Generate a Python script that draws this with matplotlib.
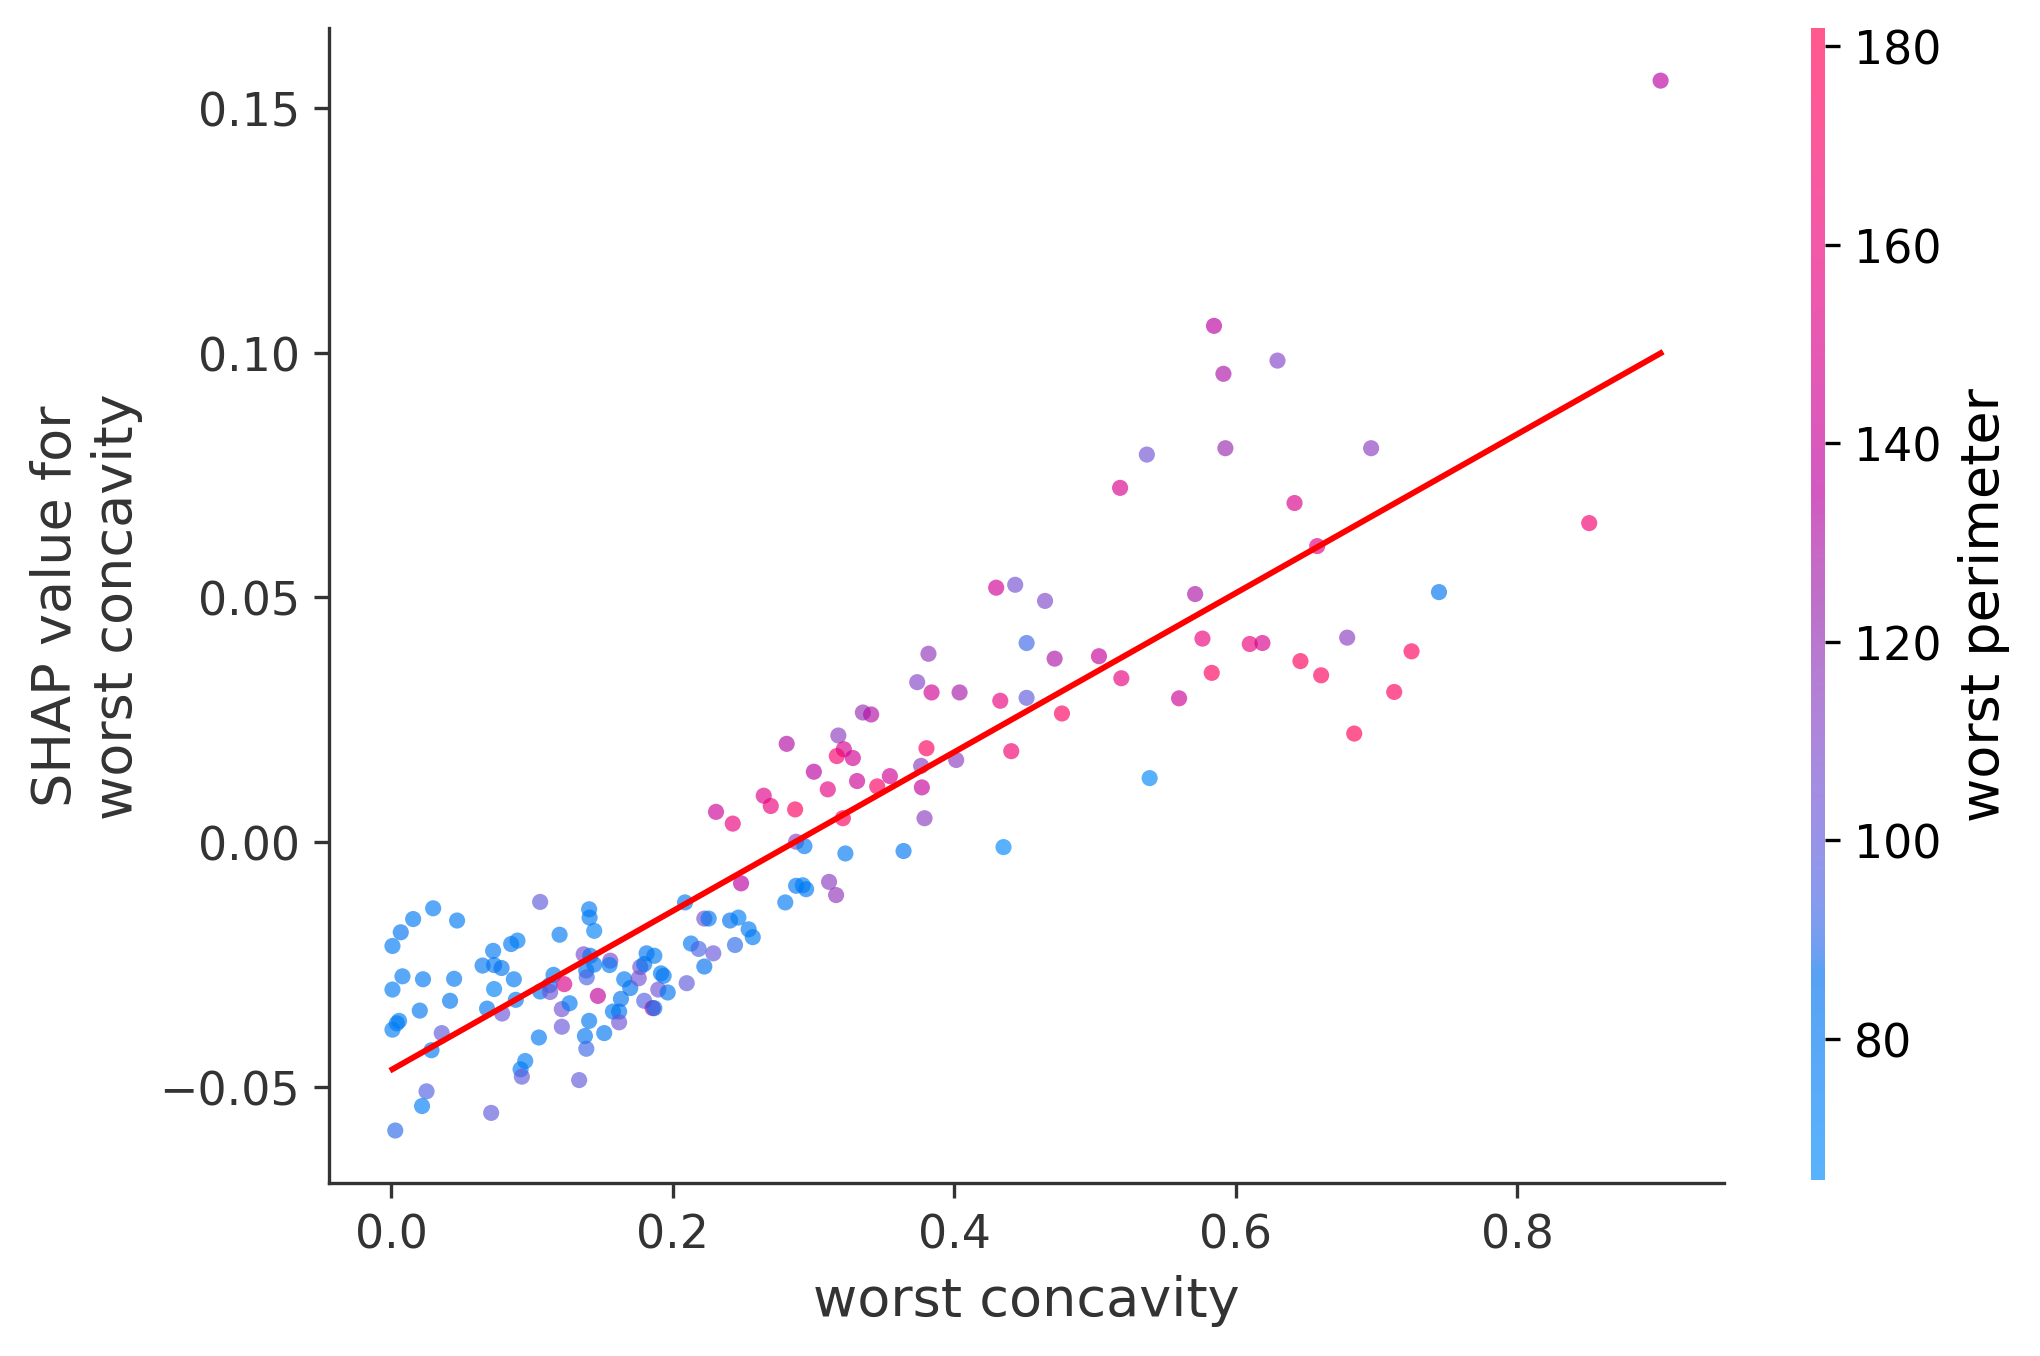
import numpy as np
import matplotlib
matplotlib.use("Agg")
import matplotlib.pyplot as plt
from matplotlib.colors import LinearSegmentedColormap
from matplotlib.ticker import MaxNLocator

# worst concavity (x), SHAP value (y), worst perimeter (colour)
worst_concavity = [
    0.001, 0.0069, 0.0157, 0.0299, 0.0469, 0.0081, 0.001, 0.0227, 0.0448, 0.0419,
    0.0204, 0.0057, 0.001, 0.0041, 0.036, 0.0287, 0.0252, 0.022, 0.003, 0.0711,
    0.1059, 0.0725, 0.065, 0.0732, 0.0785, 0.0853, 0.0898, 0.0872, 0.0732, 0.0682,
    0.0789, 0.0886, 0.105, 0.0953, 0.092, 0.0929, 0.1197, 0.1154, 0.1126, 0.1059,
    0.113, 0.123, 0.1213, 0.1268, 0.1213, 0.1336, 0.1407, 0.141, 0.1443, 0.1368,
    0.1415, 0.1443, 0.1386, 0.139, 0.1557, 0.1552, 0.1469, 0.1407, 0.1377, 0.1387,
    0.1514, 0.1576, 0.162, 0.162, 0.1633, 0.1656, 0.1699, 0.1759, 0.177, 0.1815,
    0.187, 0.1798, 0.1798, 0.1858, 0.187, 0.1917, 0.1936, 0.1898, 0.1965, 0.21,
    0.2088, 0.213, 0.2185, 0.2225, 0.2289, 0.2225, 0.2256, 0.2408, 0.2467, 0.2443,
    0.254, 0.2569, 0.2486, 0.28, 0.2308, 0.2427, 0.2647, 0.2697, 0.287, 0.3102,
    0.331, 0.3453, 0.3543, 0.377, 0.3209, 0.3789, 0.2877, 0.2936, 0.3227, 0.364,
    0.435, 0.2877, 0.2924, 0.2948, 0.3111, 0.3161, 0.281, 0.3351, 0.341, 0.3177,
    0.3216, 0.3166, 0.328, 0.3003, 0.3737, 0.3817, 0.3839, 0.3765, 0.3803, 0.4038,
    0.4014, 0.4298, 0.4433, 0.4645, 0.4514, 0.4713, 0.5028, 0.5187, 0.5711, 0.5763,
    0.5829, 0.5597, 0.6099, 0.6189, 0.6459, 0.6606, 0.6791, 0.7248, 0.7125, 0.6841,
    0.7443, 0.5388, 0.4327, 0.4514, 0.4765, 0.4405, 0.6578, 0.5178, 0.5368, 0.5845,
    0.5912, 0.5926, 0.6296, 0.6417, 0.6961, 0.851, 0.9017,
]
shap_values = [
    -0.0212, -0.0184, -0.0157, -0.0135, -0.0160, -0.0274, -0.0301, -0.0280, -0.0279, -0.0324,
    -0.0344, -0.0365, -0.0383, -0.0370, -0.039, -0.0425, -0.0509, -0.0539, -0.0589, -0.0553,
    -0.0122, -0.0222, -0.0252, -0.0251, -0.0257, -0.0208, -0.0201, -0.0280, -0.0300, -0.034,
    -0.035, -0.0322, -0.0399, -0.0447, -0.0464, -0.0479, -0.0189, -0.0271, -0.0292, -0.0305,
    -0.0306, -0.029, -0.0341, -0.0329, -0.0377, -0.0486, -0.0137, -0.0154, -0.0181, -0.0229,
    -0.0232, -0.025, -0.0262, -0.0276, -0.0242, -0.0251, -0.0314, -0.0365, -0.0396, -0.0422,
    -0.039, -0.0346, -0.0346, -0.0368, -0.032, -0.028, -0.0298, -0.0278, -0.0255, -0.0227,
    -0.0232, -0.0249, -0.0324, -0.0339, -0.0339, -0.0268, -0.0273, -0.0301, -0.0307, -0.0288,
    -0.0123, -0.0207, -0.0218, -0.0254, -0.0227, -0.0156, -0.0156, -0.016, -0.0154, -0.021,
    -0.0178, -0.0194, -0.0084, -0.0123, 0.0062, 0.0038, 0.0095, 0.0074, 0.0067, 0.0108,
    0.0125, 0.0114, 0.0135, 0.0112, 0.0049, 0.0049, 0.0001, -0.0008, -0.0023, -0.0018,
    -0.001, -0.0089, -0.0088, -0.0096, -0.0081, -0.0108, 0.0201, 0.0265, 0.0261, 0.0218,
    0.019, 0.0176, 0.0172, 0.0144, 0.0327, 0.0385, 0.0306, 0.0156, 0.0192, 0.0306,
    0.0168, 0.052, 0.0526, 0.0493, 0.0407, 0.0375, 0.038, 0.0335, 0.0507, 0.0416,
    0.0346, 0.0294, 0.0405, 0.0407, 0.037, 0.0341, 0.0418, 0.039, 0.0307, 0.0222,
    0.0511, 0.0131, 0.0289, 0.0295, 0.0263, 0.0186, 0.0605, 0.0724, 0.0792, 0.1055,
    0.0957, 0.0805, 0.0984, 0.0693, 0.0805, 0.0652, 0.1556,
]
worst_perimeter = [
    80, 84, 80, 78, 80, 80, 78, 80, 80, 83,
    82, 76, 76, 78, 100, 80, 96, 76, 90, 100,
    100, 80, 82, 82, 84, 82, 76, 80, 72, 82,
    102, 82, 80, 75, 78, 100, 80, 80, 84, 82,
    104, 150, 105, 80, 102, 100, 78, 80, 74, 108,
    82, 82, 82, 94, 110, 78, 138, 82, 82, 92,
    82, 80, 82, 104, 84, 80, 84, 105, 104, 82,
    80, 84, 96, 140, 82, 80, 82, 104, 84, 100,
    80, 80, 94, 86, 102, 106, 80, 86, 76, 90,
    80, 80, 135, 80, 142, 158, 152, 160, 175, 155,
    142, 172, 145, 140, 172, 115, 112, 80, 80, 82,
    70, 82, 76, 80, 115, 118, 132, 120, 132, 115,
    148, 168, 145, 135, 112, 118, 145, 115, 175, 128,
    115, 145, 106, 110, 92, 130, 140, 158, 130, 160,
    175, 142, 160, 148, 175, 175, 115, 175, 175, 178,
    84, 70, 158, 100, 175, 165, 152, 148, 105, 135,
    130, 122, 112, 150, 115, 165, 135,
]


def lch2rgb(l, c, h):
    # CIE LCh -> sRGB (D65), same path as shap's colour helpers
    a = c * np.cos(h)
    b = c * np.sin(h)
    fy = (l + 16.0) / 116.0
    f = np.array([fy + a / 500.0, fy, fy - b / 200.0])
    xyz = np.where(f > 6 / 29, f ** 3, 3 * (6 / 29) ** 2 * (f - 4 / 29))
    xyz = xyz * np.array([0.95047, 1.0, 1.08883])
    m = np.array([[3.2406, -1.5372, -0.4986],
                  [-0.9689, 1.8758, 0.0415],
                  [0.0557, -0.2040, 1.0570]])
    rgb = m @ xyz
    rgb = np.where(rgb > 0.0031308, 1.055 * np.abs(rgb) ** (1 / 2.4) - 0.055, 12.92 * rgb)
    return np.clip(rgb, 0, 1)


# shap's red_blue colormap
blue_lch = [54.0, 70.0, 4.6588]
red_lch = [54.0, 90.0, 0.35470565 + 2 * np.pi]
l_mid = 40.0
nsteps = 100
l_vals = list(np.linspace(blue_lch[0], l_mid, nsteps // 2)) + list(np.linspace(l_mid, red_lch[0], nsteps // 2))
c_vals = np.linspace(blue_lch[1], red_lch[1], nsteps)
h_vals = np.linspace(blue_lch[2], red_lch[2], nsteps)
colors = [lch2rgb(l, c, h) for l, c, h in zip(l_vals, c_vals, h_vals)]
red_blue = LinearSegmentedColormap.from_list("red_blue", colors)

x = np.array(worst_concavity)
y = np.array(shap_values)
c = np.array(worst_perimeter)

fig = plt.figure(figsize=(6.8, 4.523), dpi=300)
ax = fig.add_axes([0.1613, 0.1275, 0.6838, 0.8511])
cax = fig.add_axes([0.8877, 0.1297, 0.0068, 0.8489])

p = ax.scatter(x, y, c=c, s=15, cmap=red_blue, vmin=65.8, vmax=181.8,
               alpha=0.65, linewidth=0, rasterized=True)

# linear fit
slope, intercept = np.polyfit(x, y, 1)
xs = np.array([x.min(), x.max()])
ax.plot(xs, slope * xs + intercept, color="red", linewidth=1.4)

axis_color = "#333333"
ax.set_xlabel("worst concavity", color=axis_color, fontsize=13)
ax.set_ylabel("SHAP value for\nworst concavity", color=axis_color, fontsize=13)
ax.spines["right"].set_visible(False)
ax.spines["top"].set_visible(False)
ax.spines["left"].set_color(axis_color)
ax.spines["bottom"].set_color(axis_color)
ax.tick_params(color=axis_color, labelcolor=axis_color, labelsize=11)
ax.xaxis.set_ticks_position("bottom")
ax.yaxis.set_ticks_position("left")

cb = fig.colorbar(p, cax=cax, ticks=MaxNLocator(6))
cb.set_label("worst perimeter", size=13)
cb.ax.tick_params(labelsize=11)
cb.outline.set_visible(False)

fig.savefig("out.png", dpi=300)
